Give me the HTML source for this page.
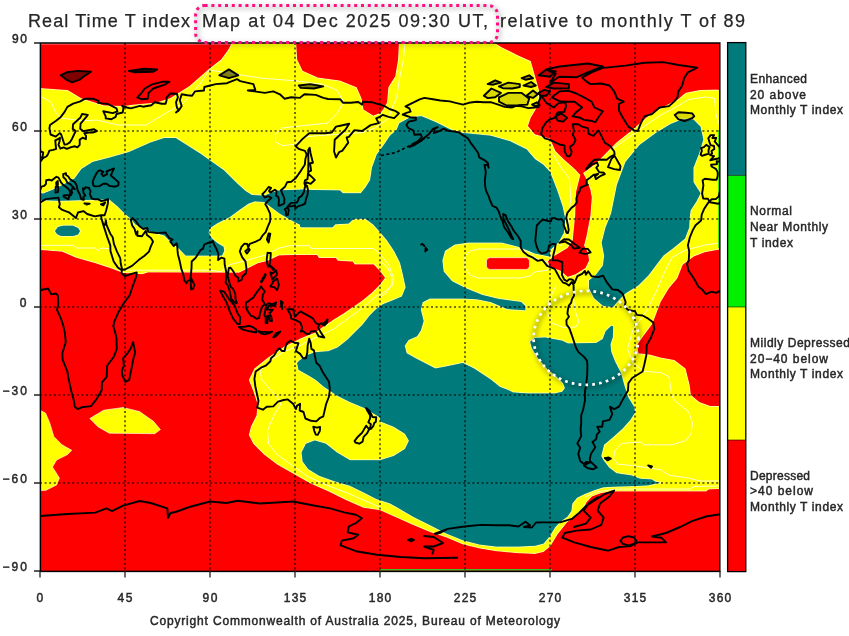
<!DOCTYPE html>
<html><head><meta charset="utf-8"><title>Real Time T index Map</title>
<style>
html,body{margin:0;padding:0;background:#fff;}
body{width:849px;height:636px;overflow:hidden;font-family:"Liberation Sans",sans-serif;}
svg{display:block;}
text{font-family:"Liberation Sans",sans-serif;fill:#1a1a1a;}
.t{font-size:18px;fill:#262626;stroke:#262626;stroke-width:0.25px;}
.a{font-size:12px;fill:#262626;stroke:#262626;stroke-width:0.45px;}
.c{font-size:11px;fill:#262626;stroke:#262626;stroke-width:0.4px;}
.l{font-size:12px;fill:#262626;stroke:#262626;stroke-width:0.45px;}
</style></head><body>
<svg width="849" height="636" viewBox="0 0 849 636">
<defs><clipPath id="mc"><rect x="40" y="43" width="680" height="528"/></clipPath>
<filter id="bl" x="-5%" y="-5%" width="110%" height="110%"><feGaussianBlur stdDeviation="0.45"/></filter>
<filter id="bc" x="-2%" y="-2%" width="104%" height="104%"><feGaussianBlur stdDeviation="0.35"/></filter>
<filter id="sh" x="-20%" y="-20%" width="140%" height="140%"><feGaussianBlur stdDeviation="2.5"/></filter>
</defs>
<rect x="0" y="0" width="849" height="636" fill="#ffffff"/>

<g clip-path="url(#mc)">
<g filter="url(#bl)">
<rect x="38" y="41" width="684" height="532" fill="#ffff00"/>
<polygon points="40.0,43.0 231.6,43.0 228.0,50.0 221.0,59.6 210.0,68.0 189.4,85.9 170.0,98.3 156.2,102.5 134.0,104.4 123.0,106.0 103.6,105.3 81.5,98.3 67.7,90.0 40.0,88.1" fill="#ff0000" stroke="#ffffff" stroke-width="2" stroke-opacity="0.55" stroke-linejoin="round"/>
<polygon points="296.3,43.0 297.2,59.6 302.7,70.7 317.9,77.6 340.0,80.4 356.7,87.3 361.6,98.3 363.6,109.4 373.3,115.5 380.0,113.0 383.0,109.4 387.0,102.5 388.3,87.3 395.2,76.2 398.0,59.6 398.8,43.0" fill="#ff0000" stroke="#ffffff" stroke-width="2" stroke-opacity="0.55" stroke-linejoin="round"/>
<polygon points="494.8,43.0 501.7,47.2 518.4,55.5 530.8,61.0 533.6,70.7 539.0,90.0 539.0,104.0 530.8,117.7 528.0,126.0 535.0,134.3 550.0,138.5 555.5,151.0 563.8,159.2 574.9,168.9 580.4,175.0 576.0,192.4 575.3,215.0 574.0,227.7 572.8,240.3 567.7,247.9 555.2,255.4 547.6,261.7 550.0,266.7 560.2,270.5 567.7,276.8 575.3,274.3 585.4,268.0 589.0,260.5 587.9,252.9 584.0,245.4 586.6,235.3 590.4,215.2 591.7,197.5 590.4,190.0 586.0,178.6 583.0,173.0 594.3,164.7 605.3,153.7 616.4,142.6 630.2,131.5 641.3,121.9 652.4,112.2 666.2,105.3 677.3,99.7 685.6,92.8 699.4,90.0 716.0,89.5 720.0,90.0 720.0,43.0" fill="#ff0000" stroke="#ffffff" stroke-width="2" stroke-opacity="0.55" stroke-linejoin="round"/>
<polygon points="40.0,250.0 62.1,251.7 76.0,257.7 95.3,263.3 112.0,268.8 123.0,273.0 142.4,274.3 148.0,272.4 239.0,272.8 248.6,268.0 258.0,263.3 267.5,261.0 279.0,255.5 293.0,255.0 317.0,255.0 318.9,258.0 335.8,258.0 337.7,260.8 352.8,261.7 354.7,264.5 373.6,264.5 379.2,270.2 385.0,277.7 379.2,285.3 371.7,292.8 362.3,300.4 352.8,307.0 343.4,313.6 334.0,319.2 324.5,325.8 315.0,332.5 301.3,338.0 284.7,346.3 268.0,357.4 254.3,368.4 248.8,380.0 253.2,391.0 257.6,404.2 256.5,415.2 251.0,426.2 248.8,435.0 253.2,443.8 264.2,454.8 277.4,464.7 295.0,474.7 310.4,483.5 328.0,491.2 345.7,500.0 363.3,507.7 380.0,510.3 398.0,518.3 413.2,525.0 429.8,532.0 446.4,537.5 463.0,544.4 479.6,548.6 496.2,551.3 518.4,553.3 535.0,554.0 543.6,552.0 550.6,546.0 557.7,534.2 567.0,522.4 575.0,516.5 580.7,511.8 584.5,507.0 586.4,502.4 592.0,496.5 601.5,493.0 616.5,491.6 706.0,491.6 709.0,489.5 720.0,489.0 720.0,571.0 40.0,571.0" fill="#ff0000" stroke="#ffffff" stroke-width="2" stroke-opacity="0.55" stroke-linejoin="round"/>
<polygon points="720.0,249.4 705.0,252.2 693.9,256.4 682.8,264.7 677.3,278.5 669.0,288.2 660.7,302.0 652.4,324.0 644.0,335.2 637.2,345.0 638.5,353.2 649.6,354.6 660.7,357.4 674.5,360.0 685.6,368.4 689.7,385.0 691.0,395.0 699.4,402.0 710.5,406.0 720.0,406.0" fill="#ff0000" stroke="#ffffff" stroke-width="2" stroke-opacity="0.55" stroke-linejoin="round"/>
<polygon points="40.0,192.4 42.8,193.8 56.6,188.3 74.6,178.6 81.5,168.9 92.6,162.0 109.2,157.8 128.5,152.3 150.7,142.6 164.5,137.9 175.6,137.9 189.4,146.8 200.5,153.7 210.0,160.6 223.8,170.3 237.7,184.1 245.5,191.0 251.8,194.9 264.3,195.7 272.2,192.6 280.0,190.2 300.0,189.7 305.0,189.7 305.0,227.0 300.0,224.8 289.5,219.3 280.0,213.8 270.6,206.7 264.3,202.0 254.9,201.2 248.6,203.6 239.2,209.9 229.7,217.0 217.2,223.2 210.0,228.0 208.5,232.7 211.7,238.2 217.2,242.9 223.5,246.8 224.2,250.8 222.0,255.5 185.7,255.5 177.9,247.6 172.8,243.9 164.5,235.6 150.7,231.5 135.5,224.5 131.3,219.0 125.8,214.6 117.5,206.3 109.2,199.3 59.4,200.7 40.0,199.9" fill="#007a7a" stroke="#ffffff" stroke-width="2" stroke-opacity="0.55" stroke-linejoin="round"/>
<polygon points="55.0,231.0 58.0,227.0 63.0,225.8 73.0,225.8 78.0,228.0 80.0,231.0 78.0,234.5 73.0,236.0 61.0,236.0 57.0,234.0" fill="#007a7a" stroke="#ffffff" stroke-width="2" stroke-opacity="0.55" stroke-linejoin="round"/>
<polygon points="300.0,189.7 340.0,190.4 342.8,193.2 360.8,193.2 365.5,187.5 370.2,180.0 372.0,167.7 376.8,154.5 384.3,144.2 390.0,135.7 396.6,130.0 399.4,123.2 410.4,117.2 421.5,116.3 435.3,121.9 452.0,130.2 463.0,132.9 490.7,135.7 510.0,141.2 526.7,149.5 535.0,159.2 543.3,164.7 550.0,172.0 556.9,189.7 562.5,206.3 565.2,219.0 563.8,232.8 558.3,242.5 550.0,250.0 550.0,256.4 535.0,253.6 518.4,246.7 501.7,242.5 468.5,242.5 454.7,244.5 445.0,250.8 442.3,260.5 443.6,271.6 452.0,281.3 465.8,288.2 482.4,295.0 499.0,299.0 521.0,302.0 525.3,306.0 525.3,310.3 507.3,309.0 490.7,302.0 477.0,299.2 463.0,298.5 429.8,298.5 422.6,302.3 420.8,309.8 423.6,321.0 420.8,330.6 417.0,336.2 408.5,340.0 404.7,345.7 406.6,353.2 416.0,358.5 435.3,368.4 443.6,367.0 463.0,362.9 474.0,368.4 490.7,379.5 500.0,387.0 507.5,389.8 513.2,392.6 528.3,393.6 554.7,393.6 562.3,391.7 565.0,388.0 563.2,383.2 556.6,376.6 547.2,369.0 537.7,357.7 532.0,348.3 530.2,341.7 535.0,338.0 545.3,337.4 562.3,340.8 568.0,343.6 596.2,343.0 602.8,338.9 605.7,331.3 611.3,325.7 613.2,326.6 612.8,337.0 610.4,344.5 611.3,352.0 615.0,361.5 620.8,372.8 624.5,386.0 628.3,397.4 634.0,406.8 635.0,412.5 630.2,420.0 622.6,428.5 613.2,437.0 604.0,444.8 601.2,455.9 603.3,460.0 609.0,467.5 616.5,473.2 631.6,475.6 640.0,478.8 651.8,479.6 655.3,481.8 660.0,482.6 648.6,485.2 635.4,486.0 616.5,486.5 603.3,487.3 594.0,490.2 584.5,494.0 577.0,497.7 572.3,503.4 571.3,510.9 567.5,516.5 560.0,522.0 555.3,527.0 549.4,536.5 543.6,543.6 535.0,545.8 518.4,546.6 496.2,546.6 479.6,544.4 463.0,540.3 446.4,533.4 429.8,525.0 413.2,516.7 396.6,507.0 389.7,503.3 376.5,498.9 363.3,492.3 350.0,485.7 334.6,481.3 319.2,475.8 308.2,469.1 302.7,461.4 301.6,452.6 306.0,443.8 314.8,440.5 325.8,443.8 336.9,452.6 350.0,460.3 380.0,460.3 393.8,455.9 405.0,449.0 409.0,440.7 405.0,433.7 393.8,426.8 380.0,421.3 380.0,417.5 376.5,415.2 363.3,407.5 350.0,402.0 336.9,395.4 323.6,386.6 316.0,380.0 309.6,376.0 298.5,369.8 297.2,362.9 300.0,360.0 307.5,355.0 315.0,352.3 328.3,351.3 337.7,347.5 347.2,340.0 354.7,332.5 362.3,324.9 369.8,315.5 375.5,309.8 383.0,304.2 392.5,300.4 401.9,296.6 405.7,287.2 402.8,274.0 400.0,262.6 394.3,251.3 386.8,240.0 380.6,232.8 373.0,224.3 365.5,218.7 354.0,218.7 348.5,223.4 335.3,224.3 332.5,227.2 301.3,227.2 300.0,226.5" fill="#007a7a" stroke="#ffffff" stroke-width="2" stroke-opacity="0.55" stroke-linejoin="round"/>
<polygon points="609.0,219.0 611.3,213.0 617.0,184.7 625.5,162.0 639.6,145.0 656.6,132.4 670.8,123.9 682.0,119.6 693.4,119.6 700.5,126.7 703.3,139.4 699.0,153.6 693.4,167.7 693.4,182.0 700.5,193.2 696.2,201.7 690.6,210.2 689.5,219.0 689.2,227.2 685.0,238.5 673.4,247.9 663.4,255.4 655.8,265.5 648.3,275.6 638.2,285.6 625.6,293.2 618.0,300.7 613.0,307.0 603.0,305.8 594.2,298.2 589.0,288.0 589.0,280.6 595.4,275.6 603.0,265.5 604.2,255.4 601.7,242.8 605.5,227.7" fill="#007a7a" stroke="#ffffff" stroke-width="2" stroke-opacity="0.55" stroke-linejoin="round"/>
<polygon points="40.0,43.0 231.6,43.0 228.0,50.0 221.0,59.6 210.0,68.0 189.4,85.9 170.0,98.3 156.2,102.5 134.0,104.4 123.0,106.0 103.6,105.3 81.5,98.3 67.7,90.0 40.0,88.1" fill="#ff0000" />
<polygon points="296.3,43.0 297.2,59.6 302.7,70.7 317.9,77.6 340.0,80.4 356.7,87.3 361.6,98.3 363.6,109.4 373.3,115.5 380.0,113.0 383.0,109.4 387.0,102.5 388.3,87.3 395.2,76.2 398.0,59.6 398.8,43.0" fill="#ff0000" />
<polygon points="494.8,43.0 501.7,47.2 518.4,55.5 530.8,61.0 533.6,70.7 539.0,90.0 539.0,104.0 530.8,117.7 528.0,126.0 535.0,134.3 550.0,138.5 555.5,151.0 563.8,159.2 574.9,168.9 580.4,175.0 576.0,192.4 575.3,215.0 574.0,227.7 572.8,240.3 567.7,247.9 555.2,255.4 547.6,261.7 550.0,266.7 560.2,270.5 567.7,276.8 575.3,274.3 585.4,268.0 589.0,260.5 587.9,252.9 584.0,245.4 586.6,235.3 590.4,215.2 591.7,197.5 590.4,190.0 586.0,178.6 583.0,173.0 594.3,164.7 605.3,153.7 616.4,142.6 630.2,131.5 641.3,121.9 652.4,112.2 666.2,105.3 677.3,99.7 685.6,92.8 699.4,90.0 716.0,89.5 720.0,90.0 720.0,43.0" fill="#ff0000" />
<polygon points="40.0,250.0 62.1,251.7 76.0,257.7 95.3,263.3 112.0,268.8 123.0,273.0 142.4,274.3 148.0,272.4 239.0,272.8 248.6,268.0 258.0,263.3 267.5,261.0 279.0,255.5 293.0,255.0 317.0,255.0 318.9,258.0 335.8,258.0 337.7,260.8 352.8,261.7 354.7,264.5 373.6,264.5 379.2,270.2 385.0,277.7 379.2,285.3 371.7,292.8 362.3,300.4 352.8,307.0 343.4,313.6 334.0,319.2 324.5,325.8 315.0,332.5 301.3,338.0 284.7,346.3 268.0,357.4 254.3,368.4 248.8,380.0 253.2,391.0 257.6,404.2 256.5,415.2 251.0,426.2 248.8,435.0 253.2,443.8 264.2,454.8 277.4,464.7 295.0,474.7 310.4,483.5 328.0,491.2 345.7,500.0 363.3,507.7 380.0,510.3 398.0,518.3 413.2,525.0 429.8,532.0 446.4,537.5 463.0,544.4 479.6,548.6 496.2,551.3 518.4,553.3 535.0,554.0 543.6,552.0 550.6,546.0 557.7,534.2 567.0,522.4 575.0,516.5 580.7,511.8 584.5,507.0 586.4,502.4 592.0,496.5 601.5,493.0 616.5,491.6 706.0,491.6 709.0,489.5 720.0,489.0 720.0,571.0 40.0,571.0" fill="#ff0000" />
<polygon points="720.0,249.4 705.0,252.2 693.9,256.4 682.8,264.7 677.3,278.5 669.0,288.2 660.7,302.0 652.4,324.0 644.0,335.2 637.2,345.0 638.5,353.2 649.6,354.6 660.7,357.4 674.5,360.0 685.6,368.4 689.7,385.0 691.0,395.0 699.4,402.0 710.5,406.0 720.0,406.0" fill="#ff0000" />
<polygon points="40.0,192.4 42.8,193.8 56.6,188.3 74.6,178.6 81.5,168.9 92.6,162.0 109.2,157.8 128.5,152.3 150.7,142.6 164.5,137.9 175.6,137.9 189.4,146.8 200.5,153.7 210.0,160.6 223.8,170.3 237.7,184.1 245.5,191.0 251.8,194.9 264.3,195.7 272.2,192.6 280.0,190.2 300.0,189.7 305.0,189.7 305.0,227.0 300.0,224.8 289.5,219.3 280.0,213.8 270.6,206.7 264.3,202.0 254.9,201.2 248.6,203.6 239.2,209.9 229.7,217.0 217.2,223.2 210.0,228.0 208.5,232.7 211.7,238.2 217.2,242.9 223.5,246.8 224.2,250.8 222.0,255.5 185.7,255.5 177.9,247.6 172.8,243.9 164.5,235.6 150.7,231.5 135.5,224.5 131.3,219.0 125.8,214.6 117.5,206.3 109.2,199.3 59.4,200.7 40.0,199.9" fill="#007a7a" />
<polygon points="55.0,231.0 58.0,227.0 63.0,225.8 73.0,225.8 78.0,228.0 80.0,231.0 78.0,234.5 73.0,236.0 61.0,236.0 57.0,234.0" fill="#007a7a" />
<polygon points="300.0,189.7 340.0,190.4 342.8,193.2 360.8,193.2 365.5,187.5 370.2,180.0 372.0,167.7 376.8,154.5 384.3,144.2 390.0,135.7 396.6,130.0 399.4,123.2 410.4,117.2 421.5,116.3 435.3,121.9 452.0,130.2 463.0,132.9 490.7,135.7 510.0,141.2 526.7,149.5 535.0,159.2 543.3,164.7 550.0,172.0 556.9,189.7 562.5,206.3 565.2,219.0 563.8,232.8 558.3,242.5 550.0,250.0 550.0,256.4 535.0,253.6 518.4,246.7 501.7,242.5 468.5,242.5 454.7,244.5 445.0,250.8 442.3,260.5 443.6,271.6 452.0,281.3 465.8,288.2 482.4,295.0 499.0,299.0 521.0,302.0 525.3,306.0 525.3,310.3 507.3,309.0 490.7,302.0 477.0,299.2 463.0,298.5 429.8,298.5 422.6,302.3 420.8,309.8 423.6,321.0 420.8,330.6 417.0,336.2 408.5,340.0 404.7,345.7 406.6,353.2 416.0,358.5 435.3,368.4 443.6,367.0 463.0,362.9 474.0,368.4 490.7,379.5 500.0,387.0 507.5,389.8 513.2,392.6 528.3,393.6 554.7,393.6 562.3,391.7 565.0,388.0 563.2,383.2 556.6,376.6 547.2,369.0 537.7,357.7 532.0,348.3 530.2,341.7 535.0,338.0 545.3,337.4 562.3,340.8 568.0,343.6 596.2,343.0 602.8,338.9 605.7,331.3 611.3,325.7 613.2,326.6 612.8,337.0 610.4,344.5 611.3,352.0 615.0,361.5 620.8,372.8 624.5,386.0 628.3,397.4 634.0,406.8 635.0,412.5 630.2,420.0 622.6,428.5 613.2,437.0 604.0,444.8 601.2,455.9 603.3,460.0 609.0,467.5 616.5,473.2 631.6,475.6 640.0,478.8 651.8,479.6 655.3,481.8 660.0,482.6 648.6,485.2 635.4,486.0 616.5,486.5 603.3,487.3 594.0,490.2 584.5,494.0 577.0,497.7 572.3,503.4 571.3,510.9 567.5,516.5 560.0,522.0 555.3,527.0 549.4,536.5 543.6,543.6 535.0,545.8 518.4,546.6 496.2,546.6 479.6,544.4 463.0,540.3 446.4,533.4 429.8,525.0 413.2,516.7 396.6,507.0 389.7,503.3 376.5,498.9 363.3,492.3 350.0,485.7 334.6,481.3 319.2,475.8 308.2,469.1 302.7,461.4 301.6,452.6 306.0,443.8 314.8,440.5 325.8,443.8 336.9,452.6 350.0,460.3 380.0,460.3 393.8,455.9 405.0,449.0 409.0,440.7 405.0,433.7 393.8,426.8 380.0,421.3 380.0,417.5 376.5,415.2 363.3,407.5 350.0,402.0 336.9,395.4 323.6,386.6 316.0,380.0 309.6,376.0 298.5,369.8 297.2,362.9 300.0,360.0 307.5,355.0 315.0,352.3 328.3,351.3 337.7,347.5 347.2,340.0 354.7,332.5 362.3,324.9 369.8,315.5 375.5,309.8 383.0,304.2 392.5,300.4 401.9,296.6 405.7,287.2 402.8,274.0 400.0,262.6 394.3,251.3 386.8,240.0 380.6,232.8 373.0,224.3 365.5,218.7 354.0,218.7 348.5,223.4 335.3,224.3 332.5,227.2 301.3,227.2 300.0,226.5" fill="#007a7a" />
<polygon points="609.0,219.0 611.3,213.0 617.0,184.7 625.5,162.0 639.6,145.0 656.6,132.4 670.8,123.9 682.0,119.6 693.4,119.6 700.5,126.7 703.3,139.4 699.0,153.6 693.4,167.7 693.4,182.0 700.5,193.2 696.2,201.7 690.6,210.2 689.5,219.0 689.2,227.2 685.0,238.5 673.4,247.9 663.4,255.4 655.8,265.5 648.3,275.6 638.2,285.6 625.6,293.2 618.0,300.7 613.0,307.0 603.0,305.8 594.2,298.2 589.0,288.0 589.0,280.6 595.4,275.6 603.0,265.5 604.2,255.4 601.7,242.8 605.5,227.7" fill="#007a7a" />
<polygon points="89.8,418.5 103.6,410.2 123.0,407.5 139.6,411.6 153.4,421.3 160.4,429.6 154.8,433.7 109.2,433.2 98.0,426.8" fill="#ffff00" stroke="#ffffff" stroke-width="1" stroke-opacity="0.6"/>
<polygon points="40.0,410.2 45.5,413.0 49.7,422.7 53.8,436.5 62.0,444.8 71.8,450.3 67.7,454.5 56.6,460.0 52.5,467.0 59.4,478.0 56.6,485.0 45.5,490.5 40.0,490.5" fill="#ffff00" stroke="#ffffff" stroke-width="1" stroke-opacity="0.6"/>
<polygon points="489.0,257.7 527.0,257.7 529.4,260.0 529.4,267.0 527.0,269.4 489.0,269.4 486.5,267.0 486.5,260.0" fill="#ff0000" stroke="#ffffff" stroke-width="1" stroke-opacity="0.6"/>
</g>
<path d="M40.0 96.0 L42.8 97.5 L51.3 102.4 L55.6 112.3 L61.2 118.0 L82.4 120.8 L96.6 120.1 L117.8 125.0 L146.0 125.0 L160.0 116.6 L183.9 102.5 L200.0 84.0 L209.4 70.0 L222.0 72.0 L247.0 76.0 L263.7 78.4 L294.3 80.7 L322.6 84.3 L336.8 90.2 L343.9 102.0 L336.8 113.8 L327.4 123.2 L303.8 125.5 L282.5 128.0 L275.5 133.8 L275.5 142.0 L282.5 145.6 L294.3 144.4 L303.8 137.3 L313.2 136.0 L362.7 132.6 L374.5 128.0 L388.7 118.5 L392.5 106.6 L396.6 98.3 L399.4 79.0 L403.5 59.6 L404.9 43.0 M40.0 245.3 L73.2 245.3 L76.0 248.0 L95.3 248.0 L98.0 250.8 L101.0 248.0 L112.0 249.0 M125.8 270.2 L210.0 270.2 L221.0 271.6 L229.4 264.7 L246.0 260.5 L265.3 255.0 L279.2 248.0 L290.2 245.7 L309.4 245.7 L311.3 248.5 L373.6 248.5 L379.2 253.2 L388.7 264.5 L393.4 277.7 L392.5 285.3 L383.0 292.8 L375.5 296.6 L362.3 308.0 L347.2 319.2 L334.0 328.7 L318.9 336.2 L309.4 340.0 L300.0 345.7 L284.7 351.0 L269.5 361.0 L260.0 371.0 L262.0 380.0 L277.4 397.6 L280.7 404.2 L273.0 417.4 L267.5 430.6 L268.6 443.8 L277.4 454.8 L292.8 465.8 L308.2 476.9 L328.0 485.7 L345.7 492.3 L363.3 500.0 L380.9 507.7 M585.0 497.0 L596.0 492.0 L616.0 489.0 L690.0 489.0 L694.0 486.5 L720.0 486.0 M552.8 153.7 L561.0 167.5 L569.4 178.6 L570.8 198.0 L569.0 219.0 L567.0 235.0 L560.0 246.0 M613.6 148.1 L633.0 134.3 L646.8 124.6 L660.7 115.0 L674.5 108.0 L688.4 99.7 L705.0 97.0 L714.6 98.3 L716.0 115.0 L720.0 126.0 M720.0 243.0 L705.0 245.0 L685.6 250.0 L671.8 257.7 L663.5 274.3 L656.5 291.0 L652.4 299.2 L646.8 310.3 L633.0 329.7 L627.5 349.0 L633.0 363.0 L644.0 371.2 L660.7 372.6 L669.0 376.7 L671.8 395.0 L674.5 400.5 L688.4 411.6 L692.5 422.7 L691.1 433.7 L685.6 440.7 L671.8 444.8 L644.0 444.8 L641.3 442.0 L622.0 443.4 L615.0 450.3 L613.6 458.6 L617.8 464.2 L633.0 465.6 L660.7 469.7 L669.0 475.2 L688.4 478.0 L700.0 481.0 L720.0 481.0 M556.2 285.4 L549.0 300.0 L547.1 312.5 L552.5 323.4 L563.4 327.4 L576.0 327.0 L578.8 321.6 L575.2 310.7 L573.3 298.0 L574.2 287.2 M465.0 256.0 L470.0 251.0 L478.0 249.0 L520.0 249.0 L530.0 252.0 L535.0 258.0 L548.0 262.0 L548.0 270.0 L535.0 272.0 L530.0 276.0 L520.0 278.0 L478.0 278.0 L470.0 275.0 L465.0 268.0 L465.0 256.0 M380.0 261.0 L388.0 268.0 L392.0 278.0 L391.0 286.0 L386.0 293.0 L380.0 297.0 M40.0 43.8 L232.0 43.8" fill="none" stroke="#ffffff" stroke-width="1" stroke-opacity="0.8" stroke-linejoin="round"/>
<rect x="718.3" y="130" width="2" height="118" fill="#00e000"/>
<rect x="380" y="569.1" width="172" height="1.5" fill="#30d030"/>
<path d="M125.0 43V571 M210.0 43V571 M295.0 43V571 M380.0 43V571 M465.0 43V571 M550.0 43V571 M635.0 43V571 M40 131.0H720 M40 219.0H720 M40 307.0H720 M40 395.0H720 M40 483.0H720" stroke="#000" stroke-width="1.6" stroke-dasharray="2 2.6" fill="none" opacity="0.72"/>
<g filter="url(#bc)"><path d="M678.4 119.3 L674.7 114.9 L678.4 112.2 L686.0 112.8 L692.2 113.4 L694.3 116.3 L691.7 118.4 L684.7 121.0 L678.4 119.3Z" fill="#000" fill-opacity="0.15" stroke="none"/><path d="M499.0 97.3 L508.4 92.9 L521.7 92.9 L529.2 98.7 L527.3 104.6 L517.9 105.2 L506.6 105.5 L499.0 101.7 L499.0 97.3Z" fill="#000" fill-opacity="0.15" stroke="none"/><path d="M483.9 95.8 L491.4 88.5 L500.9 92.9 L495.2 97.3 L487.7 98.1 L483.9 95.8Z" fill="#000" fill-opacity="0.15" stroke="none"/><path d="M550.0 82.6 L559.4 76.7 L576.4 77.3 L587.8 72.3 L602.9 66.5 L587.8 63.5 L559.4 66.5 L546.2 69.4 L555.7 73.8 L550.0 82.6Z" fill="#000" fill-opacity="0.15" stroke="none"/><path d="M546.2 87.0 L553.8 82.6 L568.9 84.1 L568.9 88.2 L553.8 88.5 L546.2 87.0Z" fill="#000" fill-opacity="0.20" stroke="none"/><path d="M60.8 75.3 L66.4 72.3 L77.8 70.9 L91.0 71.7 L83.4 76.7 L79.7 79.7 L72.1 82.3 L66.4 79.7 L60.8 75.3Z" fill="#000" fill-opacity="0.50" stroke="none"/><path d="M219.4 75.3 L228.9 69.4 L238.3 75.3 L228.9 78.2 L219.4 75.3Z" fill="#000" fill-opacity="0.50" stroke="none"/><path d="M298.8 85.5 L310.1 84.1 L323.3 86.4 L313.9 88.5 L300.7 87.9 L298.8 85.5Z" fill="#000" fill-opacity="0.50" stroke="none"/><path d="M128.8 70.9 L143.9 68.8 L157.1 69.4 L153.3 71.7 L134.4 72.3 L128.8 70.9Z" fill="#000" fill-opacity="0.80" stroke="none"/><path d="M499.0 86.4 L508.4 82.6 L519.8 84.1 L519.8 87.0 L512.2 88.5 L502.8 88.2 L499.0 86.4Z" fill="#000" fill-opacity="0.20" stroke="none"/><path d="M523.6 85.5 L531.1 82.0 L535.8 85.5 L531.1 87.0 L523.6 85.5Z" fill="#000" fill-opacity="0.30" stroke="none"/><path d="M526.4 95.8 L533.0 90.5 L537.7 94.3 L533.0 97.9 L526.4 95.8Z" fill="#000" fill-opacity="0.20" stroke="none"/><path d="M538.7 92.9 L544.3 89.9 L550.0 91.4 L546.2 95.8 L540.6 95.8 L538.7 92.9Z" fill="#000" fill-opacity="0.20" stroke="none"/><path d="M538.7 75.3 L546.2 69.4 L555.7 71.5 L550.0 76.7 L538.7 75.3Z" fill="#000" fill-opacity="0.30" stroke="none"/><path d="M555.7 116.3 L561.3 113.4 L567.0 117.8 L563.2 121.6 L557.6 120.7 L555.7 116.3Z" fill="#000" fill-opacity="0.15" stroke="none"/><path d="M532.1 104.6 L536.8 102.3 L539.6 105.2 L534.9 106.1 L532.1 104.6Z" fill="#000" fill-opacity="0.30" stroke="none"/><path d="M487.7 84.1 L495.2 80.3 L500.9 82.6 L493.3 84.7 L487.7 84.1Z" fill="#000" fill-opacity="0.40" stroke="none"/><path d="M521.7 78.2 L529.2 75.3 L533.0 78.2 L525.4 79.7 L521.7 78.2Z" fill="#000" fill-opacity="0.40" stroke="none"/><path d="M425.3 251.3 L427.2 249.8 L425.7 247.7 L425.3 251.3Z" fill="#000" fill-opacity="1.00" stroke="none"/><path d="M604.8 458.1 L608.6 457.5 L610.8 458.7 L607.6 460.4 L604.8 458.1Z" fill="#000" fill-opacity="0.80" stroke="none"/><path d="M648.2 465.4 L652.0 466.3 L651.1 467.7 L648.2 465.4Z" fill="#000" fill-opacity="1.00" stroke="none"/><path d="M381 155.5 L395.7 152.6 L410.8 145 L422 139.4 L429.6 137.5" fill="none" stroke="#000" stroke-width="1.6" stroke-dasharray="3 2.5"/><path d="M708.7 202.0 L718.1 203.7 L725.7 199.1 L738.5 197.6 L739.8 204.3 L738.9 207.3 L741.7 209.6 L748.9 212.3 L755.9 218.1 L758.0 212.5 L763.4 211.1 L767.2 214.0 L774.8 216.4 L781.0 215.2 L781.6 219.0 L783.3 224.9 L787.1 236.6 L790.3 245.4 L790.5 251.3 L793.7 261.5 L797.8 267.4 L801.8 270.3 L801.6 273.3 L805.0 276.2 L810.7 274.1 L816.7 272.4 L816.3 276.5 L812.6 286.5 L809.7 295.3 L803.1 304.1 L798.4 312.3 L794.6 320.8 L793.3 326.1 L794.6 330.5 L796.5 337.8 L796.7 349.5 L793.7 356.9 L787.1 365.7 L786.7 376.8 L782.0 382.4 L781.6 390.6 L776.7 398.8 L771.0 406.1 L761.6 407.3 L757.8 409.1 L754.8 407.0 L754.0 400.9 L751.2 390.9 L748.3 377.4 L747.4 371.5 L742.7 359.8 L742.3 353.3 L745.7 342.2 L744.9 332.8 L743.0 324.6 L740.8 318.1 L737.0 309.9 L738.3 304.1 L737.9 295.6 L736.1 293.5 L731.3 294.4 L728.1 288.5 L721.9 289.7 L716.2 292.9 L711.5 291.7 L705.8 294.1 L702.1 289.4 L698.3 286.5 L695.1 280.6 L691.7 275.3 L688.5 270.6 L687.1 263.9 L688.8 260.1 L689.2 251.3 L687.9 245.4 L689.8 237.5 L692.8 230.1 L695.6 225.2 L701.1 220.5 L701.7 214.6 L703.9 209.3 L708.7 202.0 M28.7 202.0 L38.1 203.7 L45.7 199.1 L58.5 197.6 L59.8 204.3 L58.9 207.3 L61.7 209.6 L68.9 212.3 L75.9 218.1 L78.0 212.5 L83.4 211.1 L87.2 214.0 L94.8 216.4 L101.0 215.2 L101.6 219.0 L103.3 224.9 L107.1 236.6 L110.3 245.4 L110.5 251.3 L113.7 261.5 L117.8 267.4 L121.8 270.3 L121.6 273.3 L125.0 276.2 L130.7 274.1 L136.7 272.4 L136.3 276.5 L132.6 286.5 L129.7 295.3 L123.1 304.1 L118.4 312.3 L114.6 320.8 L113.3 326.1 L114.6 330.5 L116.5 337.8 L116.7 349.5 L113.7 356.9 L107.1 365.7 L106.7 376.8 L102.0 382.4 L101.6 390.6 L96.7 398.8 L91.0 406.1 L81.6 407.3 L77.8 409.1 L74.8 407.0 L74.0 400.9 L71.2 390.9 L68.3 377.4 L67.4 371.5 L62.7 359.8 L62.3 353.3 L65.7 342.2 L64.9 332.8 L63.0 324.6 L60.8 318.1 L57.0 309.9 L58.3 304.1 L57.9 295.6 L56.1 293.5 L51.3 294.4 L48.1 288.5 L41.9 289.7 L36.2 292.9 L31.5 291.7 L25.8 294.1 L22.1 289.4 L18.3 286.5 L15.1 280.6 L11.7 275.3 L8.5 270.6 L7.1 263.9 L8.8 260.1 L9.2 251.3 L7.9 245.4 L9.8 237.5 L12.8 230.1 L15.6 225.2 L21.1 220.5 L21.7 214.6 L23.9 209.3 L28.7 202.0 M133.1 342.2 L135.2 352.5 L133.5 358.3 L129.2 380.0 L125.4 381.8 L122.5 375.9 L121.8 370.9 L123.9 365.7 L123.1 358.3 L127.5 353.3 L130.5 348.9 L133.1 342.2 M709.4 201.4 L707.9 198.8 L703.2 198.5 L702.1 193.5 L703.4 185.3 L702.6 180.3 L704.9 178.8 L712.8 179.7 L716.6 179.7 L717.7 175.9 L717.7 172.1 L715.8 168.8 L711.5 166.5 L711.1 164.7 L717.0 164.1 L716.6 161.2 L720.4 161.8 L723.0 158.3 L726.6 156.2 L728.1 153.9 L729.4 150.7 L733.2 149.8 L736.2 148.9 L735.7 145.7 L735.3 140.4 L737.9 139.2 L740.0 137.7 L739.6 141.3 L738.5 144.8 L740.4 148.6 L743.6 147.4 L746.8 148.9 L751.2 147.1 L754.9 146.3 L757.4 147.4 L759.7 144.8 L759.7 139.8 L762.5 137.7 L765.9 139.2 L766.1 136.0 L764.4 133.3 L769.1 132.5 L772.9 132.5 L777.0 131.0 L773.8 129.2 L767.2 130.4 L763.3 131.3 L760.2 128.7 L760.6 123.7 L766.3 116.9 L767.8 114.9 L762.1 114.0 L760.2 117.8 L753.1 124.3 L752.7 128.9 L755.7 131.0 L751.5 139.8 L749.8 142.4 L747.0 144.2 L744.4 144.5 L741.2 134.5 L739.8 133.1 L735.7 136.6 L730.6 134.5 L729.4 128.1 L730.0 125.1 L736.1 120.7 L740.8 116.9 L744.6 111.9 L747.4 106.9 L753.1 103.7 L759.7 101.7 L765.3 98.7 L772.9 98.7 L778.6 100.8 L777.6 102.5 L782.3 103.4 L788.0 104.0 L796.5 108.4 L797.4 111.3 L792.7 113.1 L783.3 111.3 L785.7 116.3 L785.7 118.4 L791.4 119.3 L795.6 116.9 L796.5 114.0 L802.7 112.5 L803.5 107.5 L802.2 105.8 L806.9 107.5 L810.7 108.4 L820.1 105.8 L822.9 106.7 L831.4 105.2 L834.7 102.3 L841.8 103.7 L845.6 103.7 L846.6 100.2 L846.6 97.3 L850.3 93.5 L856.9 93.7 L857.9 97.3 L856.0 102.3 L856.9 107.5 L858.8 110.5 L856.0 112.5 L859.8 109.0 L861.7 106.1 L859.8 100.2 L861.7 94.3 L867.3 95.2 L872.1 95.8 L874.9 91.4 L884.0 90.5 L884.3 87.0 L895.7 84.1 L907.0 83.2 L917.0 79.1 L920.2 81.1 L933.4 84.1 L935.3 89.9 L927.8 90.5 L934.4 91.4 L944.8 92.9 L953.3 91.4 L959.9 94.3 L964.6 98.7 L971.2 97.3 L979.7 97.9 L984.4 94.3 L995.8 94.9 L1003.3 97.9 L1008.1 99.0 L1020.3 99.3 L1023.2 102.8 L1030.7 102.8 L1038.3 102.0 L1042.1 104.6 L1043.0 101.7 L1052.4 102.3 L1060.0 104.6 L1065.7 106.7 L1069.4 109.0 L1075.1 110.8 L1078.9 113.4 L1074.2 118.1 L1068.5 116.9 L1062.8 114.9 L1059.1 117.2 L1056.2 118.4 L1058.7 123.1 L1050.6 125.1 L1042.1 131.0 L1034.5 130.1 L1028.8 136.9 L1026.6 137.5 L1028.3 142.7 L1026.0 145.7 L1022.2 150.9 L1019.4 151.8 L1016.0 157.4 L1014.1 151.5 L1014.7 139.8 L1018.4 136.3 L1025.4 129.8 L1029.2 123.7 L1020.3 125.7 L1016.0 126.6 L1011.8 132.5 L1005.2 133.3 L997.7 133.1 L989.2 133.3 L982.6 138.9 L975.6 146.3 L979.3 149.2 L985.0 150.9 L986.7 154.5 L985.4 158.9 L984.8 164.7 L981.0 170.6 L975.9 177.9 L971.2 181.7 L967.1 182.3 L965.0 186.7 L961.0 190.3 L964.4 198.5 L964.2 203.5 L960.8 205.2 L958.6 205.5 L958.9 199.3 L958.0 196.4 L956.1 196.1 L956.7 191.1 L954.8 189.7 L950.4 192.6 L949.1 191.1 L951.0 187.9 L948.6 187.0 L944.6 192.0 L942.3 194.1 L944.8 197.6 L948.2 196.1 L951.4 197.9 L947.2 201.4 L945.3 204.3 L947.2 207.3 L950.1 213.7 L950.3 216.7 L950.1 221.3 L947.6 227.2 L945.7 232.2 L942.9 235.1 L940.1 239.5 L935.7 241.6 L929.7 243.9 L928.2 247.5 L927.2 243.9 L924.4 243.6 L921.5 246.9 L919.8 251.3 L922.1 257.1 L925.5 261.5 L926.5 268.9 L925.9 273.3 L922.5 276.5 L921.5 280.0 L918.3 281.5 L918.3 277.7 L915.5 275.9 L913.6 271.8 L910.6 267.7 L908.9 268.0 L907.6 276.2 L909.5 282.7 L910.8 287.1 L913.2 289.1 L915.3 293.8 L915.5 298.8 L916.8 302.9 L915.5 303.2 L911.3 298.8 L909.6 290.9 L907.6 285.0 L905.7 282.7 L906.2 277.7 L906.2 271.8 L904.7 264.5 L904.4 258.6 L901.3 257.7 L898.1 260.1 L898.5 254.2 L896.6 249.2 L893.8 243.9 L892.8 241.0 L890.6 242.8 L888.1 242.8 L884.3 244.5 L883.0 248.6 L880.6 250.1 L875.5 258.0 L871.7 261.5 L871.5 268.3 L870.7 276.8 L869.8 280.0 L867.7 280.9 L866.4 283.2 L864.5 280.6 L863.0 273.3 L861.3 268.9 L859.8 261.5 L857.9 254.2 L857.5 250.4 L857.3 245.4 L856.6 243.3 L853.7 246.0 L850.3 241.6 L852.6 239.5 L849.4 238.1 L847.1 235.1 L845.6 232.5 L837.1 233.1 L828.2 231.9 L827.3 227.8 L823.3 229.0 L819.2 226.0 L815.4 220.5 L812.6 218.1 L810.7 219.6 L812.2 225.5 L814.6 229.0 L816.0 234.3 L817.5 231.3 L817.3 235.7 L822.0 236.3 L825.8 230.7 L826.9 235.1 L830.9 238.1 L833.0 241.6 L830.5 247.2 L829.0 251.6 L824.5 255.7 L818.6 260.1 L812.0 265.9 L805.0 269.5 L802.2 269.7 L800.7 263.6 L800.3 258.3 L796.9 251.3 L793.9 243.9 L792.7 237.2 L790.3 233.7 L786.5 224.9 L785.9 220.5 L785.0 224.9 L783.5 224.9 L781.6 219.0 L781.0 215.2 L784.6 215.2 L786.1 210.8 L787.8 203.7 L788.2 199.1 L784.2 200.5 L781.4 201.1 L777.8 199.1 L774.8 199.3 L771.8 198.5 L769.9 194.1 L770.6 191.1 L769.5 189.4 L769.1 187.9 L765.3 187.3 L764.4 189.1 L762.9 188.2 L763.4 192.6 L765.3 195.5 L763.4 197.0 L763.8 199.9 L762.3 199.6 L761.0 198.8 L760.0 194.7 L757.6 190.3 L756.6 185.3 L754.9 182.3 L750.2 179.4 L748.3 176.5 L746.1 175.0 L745.9 173.2 L743.2 174.1 L743.4 177.3 L745.7 179.4 L747.4 182.9 L750.2 184.1 L754.9 189.1 L752.1 188.2 L751.4 190.8 L752.3 192.6 L750.6 195.5 L749.7 195.2 L750.2 192.0 L748.9 189.4 L747.0 187.6 L743.6 185.3 L741.2 182.6 L739.5 179.4 L738.5 177.6 L736.4 176.8 L734.2 178.5 L731.7 180.6 L729.1 179.7 L726.2 180.3 L726.0 183.8 L724.2 185.9 L721.5 186.7 L720.0 190.5 L719.4 193.2 L718.7 196.4 L715.8 199.1 L711.7 199.3 L709.4 201.4 M29.4 201.4 L27.9 198.8 L23.2 198.5 L22.1 193.5 L23.4 185.3 L22.6 180.3 L24.9 178.8 L32.8 179.7 L36.6 179.7 L37.7 175.9 L37.7 172.1 L35.8 168.8 L31.5 166.5 L31.1 164.7 L37.0 164.1 L36.6 161.2 L40.4 161.8 L43.0 158.3 L46.6 156.2 L48.1 153.9 L49.4 150.7 L53.2 149.8 L56.2 148.9 L55.7 145.7 L55.3 140.4 L57.9 139.2 L60.0 137.7 L59.6 141.3 L58.5 144.8 L60.4 148.6 L63.6 147.4 L66.8 148.9 L71.2 147.1 L74.9 146.3 L77.4 147.4 L79.7 144.8 L79.7 139.8 L82.5 137.7 L85.9 139.2 L86.1 136.0 L84.4 133.3 L89.1 132.5 L92.9 132.5 L97.0 131.0 L93.8 129.2 L87.2 130.4 L83.3 131.3 L80.2 128.7 L80.6 123.7 L86.3 116.9 L87.8 114.9 L82.1 114.0 L80.2 117.8 L73.1 124.3 L72.7 128.9 L75.7 131.0 L71.5 139.8 L69.8 142.4 L67.0 144.2 L64.4 144.5 L61.2 134.5 L59.8 133.1 L55.7 136.6 L50.6 134.5 L49.4 128.1 L50.0 125.1 L56.1 120.7 L60.8 116.9 L64.6 111.9 L67.4 106.9 L73.1 103.7 L79.7 101.7 L85.3 98.7 L92.9 98.7 L98.6 100.8 L97.6 102.5 L102.3 103.4 L108.0 104.0 L116.5 108.4 L117.4 111.3 L112.7 113.1 L103.3 111.3 L105.7 116.3 L105.7 118.4 L111.4 119.3 L115.6 116.9 L116.5 114.0 L122.7 112.5 L123.5 107.5 L122.2 105.8 L126.9 107.5 L130.7 108.4 L140.1 105.8 L142.9 106.7 L151.4 105.2 L154.7 102.3 L161.8 103.7 L165.6 103.7 L166.6 100.2 L166.6 97.3 L170.3 93.5 L176.9 93.7 L177.9 97.3 L176.0 102.3 L176.9 107.5 L178.8 110.5 L176.0 112.5 L179.8 109.0 L181.7 106.1 L179.8 100.2 L181.7 94.3 L187.3 95.2 L192.1 95.8 L194.9 91.4 L204.0 90.5 L204.3 87.0 L215.7 84.1 L227.0 83.2 L237.0 79.1 L240.2 81.1 L253.4 84.1 L255.3 89.9 L247.8 90.5 L254.4 91.4 L264.8 92.9 L273.3 91.4 L279.9 94.3 L284.6 98.7 L291.2 97.3 L299.7 97.9 L304.4 94.3 L315.8 94.9 L323.3 97.9 L328.1 99.0 L340.3 99.3 L343.2 102.8 L350.7 102.8 L358.3 102.0 L362.1 104.6 L363.0 101.7 L372.4 102.3 L380.0 104.6 L385.7 106.7 L389.4 109.0 L395.1 110.8 L398.9 113.4 L394.2 118.1 L388.5 116.9 L382.8 114.9 L379.1 117.2 L376.2 118.4 L378.7 123.1 L370.6 125.1 L362.1 131.0 L354.5 130.1 L348.8 136.9 L346.6 137.5 L348.3 142.7 L346.0 145.7 L342.2 150.9 L339.4 151.8 L336.0 157.4 L334.1 151.5 L334.7 139.8 L338.4 136.3 L345.4 129.8 L349.2 123.7 L340.3 125.7 L336.0 126.6 L331.8 132.5 L325.2 133.3 L317.7 133.1 L309.2 133.3 L302.6 138.9 L295.6 146.3 L299.3 149.2 L305.0 150.9 L306.7 154.5 L305.4 158.9 L304.8 164.7 L301.0 170.6 L295.9 177.9 L291.2 181.7 L287.1 182.3 L285.0 186.7 L281.0 190.3 L284.4 198.5 L284.2 203.5 L280.8 205.2 L278.6 205.5 L278.9 199.3 L278.0 196.4 L276.1 196.1 L276.7 191.1 L274.8 189.7 L270.4 192.6 L269.1 191.1 L271.0 187.9 L268.6 187.0 L264.6 192.0 L262.3 194.1 L264.8 197.6 L268.2 196.1 L271.4 197.9 L267.2 201.4 L265.3 204.3 L267.2 207.3 L270.1 213.7 L270.3 216.7 L270.1 221.3 L267.6 227.2 L265.7 232.2 L262.9 235.1 L260.1 239.5 L255.7 241.6 L249.7 243.9 L248.2 247.5 L247.2 243.9 L244.4 243.6 L241.5 246.9 L239.8 251.3 L242.1 257.1 L245.5 261.5 L246.5 268.9 L245.9 273.3 L242.5 276.5 L241.5 280.0 L238.3 281.5 L238.3 277.7 L235.5 275.9 L233.6 271.8 L230.6 267.7 L228.9 268.0 L227.6 276.2 L229.5 282.7 L230.8 287.1 L233.2 289.1 L235.3 293.8 L235.5 298.8 L236.8 302.9 L235.5 303.2 L231.3 298.8 L229.6 290.9 L227.6 285.0 L225.7 282.7 L226.2 277.7 L226.2 271.8 L224.7 264.5 L224.4 258.6 L221.3 257.7 L218.1 260.1 L218.5 254.2 L216.6 249.2 L213.8 243.9 L212.8 241.0 L210.6 242.8 L208.1 242.8 L204.3 244.5 L203.0 248.6 L200.6 250.1 L195.5 258.0 L191.7 261.5 L191.5 268.3 L190.7 276.8 L189.8 280.0 L187.7 280.9 L186.4 283.2 L184.5 280.6 L183.0 273.3 L181.3 268.9 L179.8 261.5 L177.9 254.2 L177.5 250.4 L177.3 245.4 L176.6 243.3 L173.7 246.0 L170.3 241.6 L172.6 239.5 L169.4 238.1 L167.1 235.1 L165.6 232.5 L157.1 233.1 L148.2 231.9 L147.3 227.8 L143.3 229.0 L139.2 226.0 L135.4 220.5 L132.6 218.1 L130.7 219.6 L132.2 225.5 L134.6 229.0 L136.0 234.3 L137.5 231.3 L137.3 235.7 L142.0 236.3 L145.8 230.7 L146.9 235.1 L150.9 238.1 L153.0 241.6 L150.5 247.2 L149.0 251.6 L144.5 255.7 L138.6 260.1 L132.0 265.9 L125.0 269.5 L122.2 269.7 L120.7 263.6 L120.3 258.3 L116.9 251.3 L113.9 243.9 L112.7 237.2 L110.3 233.7 L106.5 224.9 L105.9 220.5 L105.0 224.9 L103.5 224.9 L101.6 219.0 L101.0 215.2 L104.6 215.2 L106.1 210.8 L107.8 203.7 L108.2 199.1 L104.2 200.5 L101.4 201.1 L97.8 199.1 L94.8 199.3 L91.8 198.5 L89.9 194.1 L90.6 191.1 L89.5 189.4 L89.1 187.9 L85.3 187.3 L84.4 189.1 L82.9 188.2 L83.4 192.6 L85.3 195.5 L83.4 197.0 L83.8 199.9 L82.3 199.6 L81.0 198.8 L80.0 194.7 L77.6 190.3 L76.6 185.3 L74.9 182.3 L70.2 179.4 L68.3 176.5 L66.1 175.0 L65.9 173.2 L63.2 174.1 L63.4 177.3 L65.7 179.4 L67.4 182.9 L70.2 184.1 L74.9 189.1 L72.1 188.2 L71.4 190.8 L72.3 192.6 L70.6 195.5 L69.7 195.2 L70.2 192.0 L68.9 189.4 L67.0 187.6 L63.6 185.3 L61.2 182.6 L59.5 179.4 L58.5 177.6 L56.4 176.8 L54.2 178.5 L51.7 180.6 L49.1 179.7 L46.2 180.3 L46.0 183.8 L44.2 185.9 L41.5 186.7 L40.0 190.5 L39.4 193.2 L38.7 196.4 L35.8 199.1 L31.7 199.3 L29.4 201.4 M93.3 185.3 L94.8 186.4 L99.5 186.1 L103.3 183.8 L106.5 183.8 L109.5 185.9 L115.0 186.7 L118.4 185.3 L118.6 182.3 L115.0 179.1 L110.8 175.6 L112.2 172.1 L114.0 168.5 L110.8 169.7 L106.5 171.5 L107.1 174.1 L103.3 176.2 L101.4 173.8 L103.3 171.8 L100.1 170.3 L98.0 171.2 L96.1 174.1 L94.2 177.9 L92.7 181.5 L93.3 185.3 M710.2 160.3 L713.4 159.5 L720.6 158.0 L722.6 156.8 L723.2 152.4 L720.6 151.5 L719.6 147.1 L717.0 144.2 L715.8 142.7 L714.7 141.6 L716.2 138.0 L712.4 138.0 L714.1 135.1 L710.6 135.1 L708.3 138.3 L709.4 141.9 L710.6 145.1 L714.0 146.0 L714.3 148.9 L711.5 150.9 L712.1 153.3 L710.2 155.1 L714.0 156.2 L710.2 160.3 M30.2 160.3 L33.4 159.5 L40.6 158.0 L42.6 156.8 L43.2 152.4 L40.6 151.5 L39.6 147.1 L37.0 144.2 L35.8 142.7 L34.7 141.6 L36.2 138.0 L32.4 138.0 L34.1 135.1 L30.6 135.1 L28.3 138.3 L29.4 141.9 L30.6 145.1 L34.0 146.0 L34.3 148.9 L31.5 150.9 L32.1 153.3 L30.2 155.1 L34.0 156.2 L30.2 160.3 M708.7 153.9 L708.5 150.1 L709.6 147.1 L706.2 144.8 L703.9 147.1 L701.1 148.0 L701.9 150.9 L700.5 154.5 L702.1 155.9 L705.8 154.5 L708.7 153.9 M678.4 119.3 L674.7 114.9 L678.4 112.2 L686.0 112.8 L692.2 113.4 L694.3 116.3 L691.7 118.4 L684.7 121.0 L678.4 119.3 M287.3 207.3 L289.3 206.4 L291.2 206.4 L295.0 205.5 L295.4 208.4 L298.4 206.1 L302.0 205.2 L305.0 203.7 L306.0 199.1 L307.5 194.7 L308.0 189.7 L306.9 185.6 L304.8 187.3 L304.1 191.7 L301.8 195.8 L298.8 197.9 L298.2 200.5 L296.7 202.6 L291.2 202.9 L288.4 205.5 L287.3 207.3 M287.3 207.6 L288.8 209.6 L288.0 214.9 L286.1 215.2 L285.9 211.1 L284.8 209.3 L287.3 207.6 M305.0 185.3 L306.7 182.3 L310.7 183.8 L314.8 180.0 L312.8 177.9 L308.0 173.5 L307.5 179.1 L305.0 180.3 L304.4 183.2 L305.0 185.3 M308.2 172.1 L311.1 170.6 L310.1 163.3 L312.9 162.7 L310.5 153.0 L309.7 147.7 L308.2 150.1 L308.4 160.3 L308.2 172.1 M268.6 242.5 L270.3 233.7 L268.6 233.4 L266.9 239.5 L268.6 242.5 M245.3 251.3 L248.7 248.3 L249.7 249.8 L246.8 253.6 L245.3 251.3 M191.1 278.3 L194.5 285.0 L193.0 288.8 L191.1 289.4 L190.7 283.5 L191.1 278.3 M267.6 252.7 L270.8 253.0 L270.4 260.1 L269.5 265.1 L274.2 268.9 L273.3 270.0 L270.4 266.5 L268.0 266.5 L267.2 263.6 L266.7 259.5 L267.6 252.7 M270.4 286.5 L273.3 281.5 L277.1 278.5 L278.9 285.0 L277.1 290.0 L274.2 287.1 L270.4 286.5 M270.4 272.4 L272.7 273.3 L276.1 270.3 L277.1 274.7 L274.2 277.7 L272.3 279.7 L271.4 276.2 L270.4 272.4 M261.4 282.4 L265.7 275.3 L265.3 273.9 L261.0 281.5 M245.9 302.6 L247.8 301.7 L250.2 299.7 L253.4 297.6 L256.3 292.9 L259.1 289.4 L261.0 286.5 L264.8 291.5 L262.9 294.4 L262.3 299.7 L264.8 304.1 L261.9 307.0 L260.1 312.9 L259.1 318.1 L256.3 318.7 L253.4 316.4 L251.0 315.8 L247.8 311.4 L245.9 307.0 L245.9 302.6 M220.0 290.6 L224.2 291.7 L229.5 299.7 L234.6 305.5 L237.4 312.9 L240.2 317.3 L239.8 324.0 L237.4 324.0 L233.2 318.7 L229.8 311.4 L226.4 302.0 L223.2 296.7 L220.0 290.6 M238.9 326.9 L244.0 326.9 L249.3 325.8 L252.9 327.2 L256.3 329.6 L256.1 332.5 L249.7 331.3 L244.0 329.9 L241.0 328.7 L238.9 326.9 M258.2 331.3 L261.0 331.6 L264.8 331.9 L268.6 332.2 L272.3 331.6 L268.6 333.4 L264.8 334.3 L261.0 333.4 L258.2 331.3 M273.3 337.2 L276.1 333.4 L280.3 331.6 L277.1 335.2 L274.2 337.2 L273.3 337.2 M266.3 304.7 L268.6 303.2 L272.3 304.4 L276.1 302.3 L275.2 305.8 L268.6 305.8 L267.0 309.6 L269.5 309.6 L272.9 309.6 L270.8 312.0 L269.5 312.9 L271.4 317.3 L272.0 321.1 L269.9 321.1 L268.6 315.8 L267.4 315.8 L267.4 323.1 L265.7 323.1 L265.7 317.3 L264.4 315.2 L266.3 304.7 M280.8 301.1 L282.7 302.6 L281.8 305.5 L282.3 309.1 L281.2 306.1 L280.8 301.1 M287.4 309.3 L293.1 309.3 L295.0 316.7 L300.3 311.4 L306.3 314.6 L312.9 318.4 L315.8 323.1 L319.2 324.6 L318.0 327.5 L321.4 333.4 L324.3 337.5 L318.6 336.3 L315.8 331.1 L311.1 331.3 L309.2 334.0 L306.3 333.7 L302.6 330.8 L300.7 331.6 L302.2 327.5 L300.3 322.5 L295.9 320.2 L291.2 318.7 L290.8 315.2 L287.4 309.3 M320.5 323.4 L324.3 323.1 L327.5 319.3 L327.1 322.5 L324.3 325.5 L320.5 323.4 M255.7 371.5 L254.4 378.9 L255.3 386.2 L257.2 395.0 L258.5 400.9 L257.2 407.6 L262.9 409.7 L266.7 406.7 L273.3 406.4 L278.0 401.7 L283.7 400.0 L287.8 399.4 L293.1 403.8 L295.9 409.1 L296.9 405.9 L300.1 403.8 L299.7 410.5 L303.5 412.0 L305.4 418.5 L311.1 420.8 L316.3 421.4 L319.6 418.2 L323.3 416.4 L324.8 409.7 L326.2 403.8 L329.0 396.5 L329.9 389.1 L329.0 381.8 L325.2 375.9 L322.4 371.5 L319.6 365.7 L316.3 362.7 L314.8 355.4 L313.9 350.4 L311.4 348.9 L310.7 343.1 L309.2 338.7 L307.7 345.1 L307.3 352.5 L306.0 358.3 L303.1 358.3 L300.1 353.9 L295.9 351.0 L298.4 343.1 L295.0 342.8 L290.3 340.7 L287.4 342.8 L285.6 346.6 L284.6 351.0 L281.8 351.0 L279.5 348.1 L276.7 351.0 L274.2 355.4 L271.0 358.3 L270.4 361.3 L265.7 365.7 L261.0 367.7 L255.7 371.5 M313.3 426.7 L316.7 427.6 L320.1 427.0 L319.9 430.8 L317.7 434.9 L315.8 434.6 L314.3 430.8 L313.3 426.7 M366.2 407.9 L369.2 410.5 L371.5 414.7 L372.4 417.0 L376.2 417.3 L375.8 422.0 L374.3 422.9 L373.4 425.8 L370.9 429.0 L370.0 428.1 L370.9 424.3 L368.3 422.3 L370.0 418.5 L370.2 415.5 L366.8 409.7 L366.2 407.9 M366.2 425.8 L369.2 429.3 L366.8 433.7 L363.6 436.9 L362.6 441.6 L359.2 443.7 L355.4 442.5 L354.5 441.1 L357.9 436.7 L362.1 432.8 L363.9 429.6 L366.2 425.8 M402.7 114.6 L406.4 112.8 L410.6 111.6 L409.3 108.4 L405.5 106.4 L412.1 103.1 L419.7 99.3 L424.4 97.9 L432.9 99.3 L440.4 100.5 L449.9 101.4 L455.6 102.8 L463.1 104.6 L468.8 102.8 L476.3 101.7 L483.9 102.3 L491.4 102.3 L499.0 104.9 L504.7 106.9 L512.2 107.5 L516.0 105.8 L521.7 106.4 L528.3 108.1 L534.9 107.5 L538.7 106.9 L538.7 101.7 L541.5 95.8 L543.4 98.7 L546.2 102.8 L549.1 104.6 L553.8 107.5 L558.5 103.1 L565.1 102.3 L566.1 106.1 L564.2 111.9 L557.6 112.5 L554.7 117.8 L550.0 119.3 L546.2 122.2 L542.4 128.1 L541.1 134.2 L544.9 138.3 L550.0 139.8 L555.7 142.7 L560.4 144.8 L564.5 145.4 L564.7 151.5 L567.0 155.9 L569.5 156.5 L570.8 154.5 L571.7 151.5 L569.8 147.1 L573.6 144.2 L575.5 139.8 L572.7 134.8 L574.0 131.0 L572.7 124.3 L578.3 124.3 L582.1 126.6 L587.8 128.1 L588.7 133.9 L593.4 136.0 L597.2 131.6 L598.5 130.4 L601.9 136.9 L604.8 142.7 L610.4 146.3 L614.2 151.5 L614.6 154.5 L610.4 156.8 L606.7 159.7 L599.1 159.5 L594.4 159.7 L589.7 164.1 L585.9 169.4 L591.6 164.7 L597.2 162.7 L598.2 165.6 L596.3 167.7 L599.1 172.1 L603.8 172.7 L604.8 174.1 L600.1 176.2 L595.9 179.1 L595.0 176.5 L598.2 173.8 L593.4 175.0 L589.7 177.9 L586.8 180.0 L586.5 183.8 L587.8 184.7 L584.9 185.6 L580.6 187.6 L579.8 190.8 L577.8 194.1 L576.4 198.5 L576.8 202.3 L574.6 205.5 L571.2 208.1 L567.4 212.8 L566.2 217.5 L567.9 224.9 L568.7 230.1 L567.9 233.1 L566.6 232.8 L565.1 228.7 L563.6 224.9 L563.6 221.3 L561.3 219.0 L558.5 219.6 L554.7 218.1 L551.9 218.1 L550.9 221.3 L548.1 221.1 L543.4 219.6 L540.6 221.3 L536.8 225.5 L536.2 230.7 L535.3 241.0 L536.8 246.9 L538.7 251.3 L541.5 253.6 L546.2 252.4 L548.1 250.7 L549.1 245.4 L552.8 243.9 L555.7 244.2 L554.7 249.8 L553.4 254.8 L552.5 260.4 L557.6 260.4 L562.3 262.1 L562.3 270.3 L561.9 274.7 L564.2 279.7 L567.0 281.2 L569.3 279.1 L572.7 279.7 L574.6 282.9 L577.4 276.2 L582.1 273.9 L584.9 270.9 L585.9 274.7 L588.2 271.2 L591.6 276.2 L598.2 277.1 L602.9 275.6 L606.7 282.1 L612.3 289.4 L618.0 290.0 L622.7 293.8 L625.6 302.0 L624.6 307.0 L628.4 309.9 L635.0 311.4 L636.9 314.9 L642.6 315.5 L647.3 318.1 L653.3 322.5 L654.3 329.0 L651.1 337.2 L646.7 345.1 L646.3 355.4 L644.4 364.2 L642.6 371.5 L637.8 374.5 L632.2 378.0 L628.4 383.3 L628.0 390.6 L623.7 397.9 L618.9 406.7 L614.2 409.1 L609.9 406.7 L612.3 414.1 L609.5 419.9 L602.9 421.4 L602.3 426.7 L597.2 426.7 L599.7 431.7 L596.8 434.6 L596.3 439.0 L592.5 441.9 L595.3 447.2 L591.0 453.7 L589.7 459.5 L590.6 462.5 L586.3 461.9 L584.0 463.9 L580.2 461.0 L578.3 453.7 L580.2 447.8 L577.4 443.4 L581.2 436.1 L580.6 429.6 L581.2 422.9 L581.2 415.5 L583.1 409.7 L584.9 400.9 L584.9 392.1 L586.3 383.3 L587.2 374.5 L587.4 365.7 L587.0 360.7 L584.0 356.9 L578.3 351.9 L575.9 347.5 L574.2 342.2 L571.7 334.9 L569.3 328.1 L566.6 324.6 L566.4 320.2 L568.9 316.7 L567.4 313.7 L567.9 309.6 L568.9 305.5 L571.2 302.6 L571.9 299.4 L574.0 295.6 L573.6 287.9 L573.6 285.0 L571.7 282.1 L568.9 285.6 L566.1 283.5 L563.2 282.7 L559.4 277.7 L557.9 274.7 L554.7 268.9 L550.9 267.4 L547.2 265.9 L542.4 259.8 L537.7 260.9 L533.0 257.7 L528.3 255.7 L523.6 251.9 L520.7 247.5 L520.7 241.0 L517.9 236.0 L513.7 230.7 L511.3 226.3 L507.9 221.1 L505.6 215.2 L503.2 214.0 L503.5 219.0 L506.9 225.5 L509.4 230.7 L511.7 236.0 L513.2 239.2 L511.3 238.1 L507.9 232.2 L504.1 226.9 L502.8 221.9 L500.3 216.1 L498.6 211.1 L496.2 207.3 L492.4 205.8 L489.9 199.9 L488.6 196.1 L486.2 191.1 L485.2 186.7 L484.8 180.9 L485.8 172.1 L484.5 165.0 L487.7 164.7 L488.6 167.7 L488.0 163.3 L484.8 160.3 L479.2 157.4 L478.2 153.0 L474.4 147.7 L471.6 144.2 L467.8 138.3 L463.1 135.4 L459.3 132.5 L454.6 131.6 L448.0 130.7 L443.3 128.7 L439.5 131.0 L433.8 133.1 L434.8 128.7 L437.6 127.2 L432.9 128.9 L429.1 133.9 L424.4 137.7 L420.6 141.3 L414.9 144.8 L409.3 147.1 L414.0 143.3 L417.8 141.3 L421.9 136.9 L420.6 134.2 L414.4 134.8 L413.4 130.4 L408.3 128.1 L406.4 125.1 L408.7 121.6 L415.9 120.1 L415.9 117.8 L410.2 117.2 L405.5 115.5 L402.7 114.6 M568.9 90.8 L576.4 93.5 L584.0 97.3 L591.6 101.7 L594.4 107.5 L602.9 111.3 L599.1 116.3 L595.3 122.2 L590.6 120.7 L584.0 119.9 L580.2 117.8 L572.7 116.3 L576.4 111.9 L582.1 107.5 L574.6 101.7 L565.1 101.7 L559.4 101.1 L551.9 97.3 L559.4 91.4 L568.9 90.8 M499.0 97.3 L508.4 92.9 L521.7 92.9 L529.2 98.7 L527.3 104.6 L517.9 105.2 L506.6 105.5 L499.0 101.7 L499.0 97.3 M483.9 95.8 L491.4 88.5 L500.9 92.9 L495.2 97.3 L487.7 98.1 L483.9 95.8 M550.0 82.6 L559.4 76.7 L576.4 77.3 L587.8 72.3 L602.9 66.5 L587.8 63.5 L559.4 66.5 L546.2 69.4 L555.7 73.8 L550.0 82.6 M546.2 87.0 L553.8 82.6 L568.9 84.1 L568.9 88.2 L553.8 88.5 L546.2 87.0 M608.0 167.1 L614.2 169.1 L619.9 170.0 L620.5 166.2 L618.0 161.8 L614.6 155.9 L611.4 158.9 L608.0 167.1 M559.4 242.8 L564.2 239.2 L568.9 239.5 L574.6 243.9 L579.8 247.7 L573.6 248.6 L571.7 245.4 L565.1 241.6 L559.4 242.8 M579.5 252.7 L582.5 248.6 L587.8 248.9 L590.6 252.4 L586.8 253.6 L584.0 253.9 L579.5 252.7 M582.1 77.6 L591.6 72.3 L602.9 67.9 L625.6 65.6 L644.4 62.7 L663.3 62.1 L678.4 65.0 L697.3 67.6 L687.9 72.3 L684.1 78.2 L682.2 85.5 L678.4 91.4 L677.5 97.3 L674.7 101.1 L669.0 106.1 L659.6 107.5 L652.0 114.0 L644.4 116.3 L640.7 123.7 L637.8 131.0 L634.1 130.4 L628.4 126.6 L623.7 119.3 L618.9 110.5 L618.9 104.0 L623.7 101.7 L617.1 98.7 L614.2 91.4 L609.5 85.5 L601.0 83.5 L590.6 84.1 L585.9 81.1 L582.1 77.6 M590.6 461.6 L596.7 467.5 L593.4 469.2 L587.8 468.3 L584.0 465.4 L586.8 463.9 L590.6 461.6 M137.3 97.3 L141.1 93.5 L144.8 88.5 L151.4 84.7 L162.8 81.7 L169.4 81.7 L164.7 84.7 L153.3 88.5 L148.6 92.9 L147.7 98.7 L142.0 99.3 L137.3 97.3 M60.8 75.3 L66.4 72.3 L77.8 70.9 L91.0 71.7 L83.4 76.7 L79.7 79.7 L72.1 82.3 L66.4 79.7 L60.8 75.3 M219.4 75.3 L228.9 69.4 L238.3 75.3 L228.9 78.2 L219.4 75.3 M298.8 85.5 L310.1 84.1 L323.3 86.4 L313.9 88.5 L300.7 87.9 L298.8 85.5 M128.8 70.9 L143.9 68.8 L157.1 69.4 L153.3 71.7 L134.4 72.3 L128.8 70.9 M63.6 195.5 L69.3 194.9 L68.5 199.3 L63.6 196.7 L63.6 195.5 M55.5 192.6 L58.1 192.0 L58.3 186.7 L55.7 186.7 L55.5 192.6 M56.4 185.3 L57.9 185.0 L57.8 180.9 L56.2 182.6 L56.4 185.3 M84.4 203.5 L89.7 203.7 L86.7 204.6 L84.4 203.5 M101.0 204.3 L105.2 202.6 L103.3 205.5 L101.0 204.3 M499.0 86.4 L508.4 82.6 L519.8 84.1 L519.8 87.0 L512.2 88.5 L502.8 88.2 L499.0 86.4 M523.6 85.5 L531.1 82.0 L535.8 85.5 L531.1 87.0 L523.6 85.5 M526.4 95.8 L533.0 90.5 L537.7 94.3 L533.0 97.9 L526.4 95.8 M538.7 92.9 L544.3 89.9 L550.0 91.4 L546.2 95.8 L540.6 95.8 L538.7 92.9 M538.7 75.3 L546.2 69.4 L555.7 71.5 L550.0 76.7 L538.7 75.3 M555.7 116.3 L561.3 113.4 L567.0 117.8 L563.2 121.6 L557.6 120.7 L555.7 116.3 M532.1 104.6 L536.8 102.3 L539.6 105.2 L534.9 106.1 L532.1 104.6 M487.7 84.1 L495.2 80.3 L500.9 82.6 L493.3 84.7 L487.7 84.1 M521.7 78.2 L529.2 75.3 L533.0 78.2 L525.4 79.7 L521.7 78.2 M425.3 251.3 L427.2 249.8 L425.7 247.7 L425.3 251.3 M421.2 244.5 L422.3 243.9 L424.4 246.0 M604.8 458.1 L608.6 457.5 L610.8 458.7 L607.6 460.4 L604.8 458.1 M648.2 465.4 L652.0 466.3 L651.1 467.7 L648.2 465.4 M40.0 516.0 L67.7 514.0 L95.3 512.6 L106.4 508.4 L112.0 511.2 L123.0 505.7 L139.6 501.0 L150.7 503.0 L167.3 508.4 L168.0 518.0 L170.5 513.0 L175.6 512.0 L189.4 507.0 L210.0 501.5 L226.6 503.0 L237.7 500.7 L259.8 503.5 L293.0 501.5 L315.0 505.7 L330.0 508.4 L344.0 512.4 L356.0 514.7 L361.8 518.3 L356.0 523.0 L348.8 526.5 L347.7 532.4 L358.3 534.8 L353.6 538.3 L341.8 540.6 L340.6 545.4 L356.0 551.2 L377.0 554.8 L400.7 557.0 L424.2 558.3 L457.2 557.8 M424.2 536.0 L433.7 537.0 L443.0 543.0 L433.7 546.5 L424.2 546.5 L433.7 550.0 L432.5 553.6 M408.0 540.0 L411.0 538.8 L414.0 540.0 L411.0 541.3 L408.0 540.0 M434.8 533.6 L447.8 528.9 L464.3 526.5 L480.8 524.9 L494.9 525.3 L509.0 525.3 L518.5 526.5 L525.5 521.8 L530.0 525.3 L524.0 527.0 L532.0 527.5 L536.0 522.5 L543.6 522.4 L560.0 522.4 L571.8 518.9 L579.0 513.0 L586.0 506.0 L595.4 500.0 L604.8 494.0 L614.2 490.6 L609.5 496.5 L600.0 503.6 L597.7 510.6 L603.6 517.7 L601.3 524.8 L590.7 529.5 L576.5 530.6 L564.8 533.0 L562.4 537.7 L574.2 542.4 L590.7 547.0 L608.3 550.7 L619.0 547.0 L630.7 546.0 L637.8 542.4 L652.0 542.4 L666.0 542.4 L661.3 537.7 L652.0 536.5 L666.0 533.0 L680.2 527.0 L692.0 521.2 L706.0 516.5 L720.0 514.2 M598.0 497.0 L589.0 503.0 L583.6 510.6 L590.7 517.7 L586.0 523.6 L574.0 527.0 M620.4 540.8 L623.0 537.5 L628.4 536.1 L634.0 537.5 L636.4 540.8 L634.0 544.0 L628.4 545.5 L623.0 544.0 L620.4 540.8 M436.0 534.2 L441.0 532.5 L446.0 530.0" fill="none" stroke="#000" stroke-width="1.90" stroke-linejoin="round" stroke-linecap="round"/></g>
</g>
<rect x="40.4" y="43" width="679.4" height="528.4" fill="none" stroke="#000" stroke-width="1.5"/>
<path d="M40.0 571V577.5 M125.0 571V577.5 M210.0 571V577.5 M295.0 571V577.5 M380.0 571V577.5 M465.0 571V577.5 M550.0 571V577.5 M635.0 571V577.5 M720.0 571V577.5 M34 43.0H40 M34 131.0H40 M34 219.0H40 M34 307.0H40 M34 395.0H40 M34 483.0H40 M34 571.0H40" stroke="#222" stroke-width="1.3" fill="none"/>
<rect x="728" y="43" width="17.5" height="132.5" fill="#007a7a"/>
<rect x="728" y="175.5" width="17.5" height="131.5" fill="#00f000"/>
<rect x="728" y="307" width="17.5" height="133" fill="#ffff00"/>
<rect x="728" y="440" width="17.5" height="131.5" fill="#ff0000"/>
<rect x="727.6" y="42.6" width="18.2" height="529" fill="none" stroke="#000" stroke-width="1.3"/>
<path d="M728 175.5H745.5M728 307H745.5M728 440H745.5" stroke="#000" stroke-width="1" stroke-opacity="0.55" fill="none"/>
<g filter="url(#bl)">
<text x="28.0" y="27.0" class="t" text-anchor="start" textLength="162.0" lengthAdjust="spacing">Real Time T index</text>
<text x="202.0" y="27.0" class="t" text-anchor="start" textLength="286.0" lengthAdjust="spacing">Map at 04 Dec 2025 09:30 UT,</text>
<text x="500.0" y="27.0" class="t" text-anchor="start" textLength="245.0" lengthAdjust="spacing">relative to monthly T of 89</text>
<text x="750.0" y="82.9" class="l" text-anchor="start" textLength="57.0" lengthAdjust="spacing">Enhanced</text>
<text x="750.0" y="99.1" class="l" text-anchor="start" textLength="56.0" lengthAdjust="spacing">20 above</text>
<text x="750.0" y="114.4" class="l" text-anchor="start" textLength="93.0" lengthAdjust="spacing">Monthly T index</text>
<text x="750.0" y="215.2" class="l" text-anchor="start" textLength="42.0" lengthAdjust="spacing">Normal</text>
<text x="750.0" y="230.6" class="l" text-anchor="start" textLength="78.0" lengthAdjust="spacing">Near Monthly</text>
<text x="750.0" y="246.6" class="l" text-anchor="start" textLength="43.0" lengthAdjust="spacing">T index</text>
<text x="750.0" y="346.8" class="l" text-anchor="start" textLength="100.0" lengthAdjust="spacing">Mildly Depressed</text>
<text x="750.0" y="363.2" class="l" text-anchor="start" textLength="78.0" lengthAdjust="spacing">20−40 below</text>
<text x="750.0" y="378.4" class="l" text-anchor="start" textLength="93.0" lengthAdjust="spacing">Monthly T index</text>
<text x="750.0" y="479.7" class="l" text-anchor="start" textLength="60.0" lengthAdjust="spacing">Depressed</text>
<text x="750.0" y="495.4" class="l" text-anchor="start" textLength="63.0" lengthAdjust="spacing">&gt;40 below</text>
<text x="750.0" y="511.0" class="l" text-anchor="start" textLength="93.0" lengthAdjust="spacing">Monthly T index</text>
<text x="12.0" y="43.4" class="a" text-anchor="start" textLength="15.0" lengthAdjust="spacing">90</text>
<text x="12.0" y="131.4" class="a" text-anchor="start" textLength="15.0" lengthAdjust="spacing">60</text>
<text x="12.0" y="219.4" class="a" text-anchor="start" textLength="15.0" lengthAdjust="spacing">30</text>
<text x="19.8" y="307.4" class="a" text-anchor="start" textLength="7.2" lengthAdjust="spacing">0</text>
<text x="2.5" y="395.4" class="a" text-anchor="start" textLength="24.5" lengthAdjust="spacing">−30</text>
<text x="2.5" y="483.4" class="a" text-anchor="start" textLength="24.5" lengthAdjust="spacing">−60</text>
<text x="2.5" y="571.4" class="a" text-anchor="start" textLength="24.5" lengthAdjust="spacing">−90</text>
<text x="36.4" y="602.4" class="a" text-anchor="start" textLength="7.2" lengthAdjust="spacing">0</text>
<text x="117.5" y="602.4" class="a" text-anchor="start" textLength="15.0" lengthAdjust="spacing">45</text>
<text x="202.5" y="602.4" class="a" text-anchor="start" textLength="15.0" lengthAdjust="spacing">90</text>
<text x="283.8" y="602.4" class="a" text-anchor="start" textLength="22.5" lengthAdjust="spacing">135</text>
<text x="368.8" y="602.4" class="a" text-anchor="start" textLength="22.5" lengthAdjust="spacing">180</text>
<text x="453.8" y="602.4" class="a" text-anchor="start" textLength="22.5" lengthAdjust="spacing">225</text>
<text x="538.8" y="602.4" class="a" text-anchor="start" textLength="22.5" lengthAdjust="spacing">270</text>
<text x="623.8" y="602.4" class="a" text-anchor="start" textLength="22.5" lengthAdjust="spacing">315</text>
<text x="708.8" y="602.4" class="a" text-anchor="start" textLength="22.5" lengthAdjust="spacing">360</text>
<text x="150.0" y="625.0" class="a" text-anchor="start" textLength="410.0" lengthAdjust="spacing">Copyright Commonwealth of Australia 2025, Bureau of Meteorology</text>
</g>
<rect x="197.5" y="7.5" width="301.9" height="37" rx="9" ry="9" fill="none" stroke="#000" stroke-opacity="0.22" stroke-width="3" filter="url(#sh)"/>
<rect x="195.6" y="5.5" width="301.9" height="37" rx="9" ry="9" fill="none" stroke="#ff0f80" stroke-width="3" stroke-dasharray="3 3.8"/>
<ellipse cx="587" cy="339.5" rx="52.4" ry="47" fill="none" stroke="#000" stroke-opacity="0.3" stroke-width="4" filter="url(#sh)"/>
<ellipse cx="586" cy="337.9" rx="52.4" ry="47" fill="none" stroke="#fff" stroke-width="2.7" stroke-dasharray="2.7 4.2"/>
</svg></body></html>
